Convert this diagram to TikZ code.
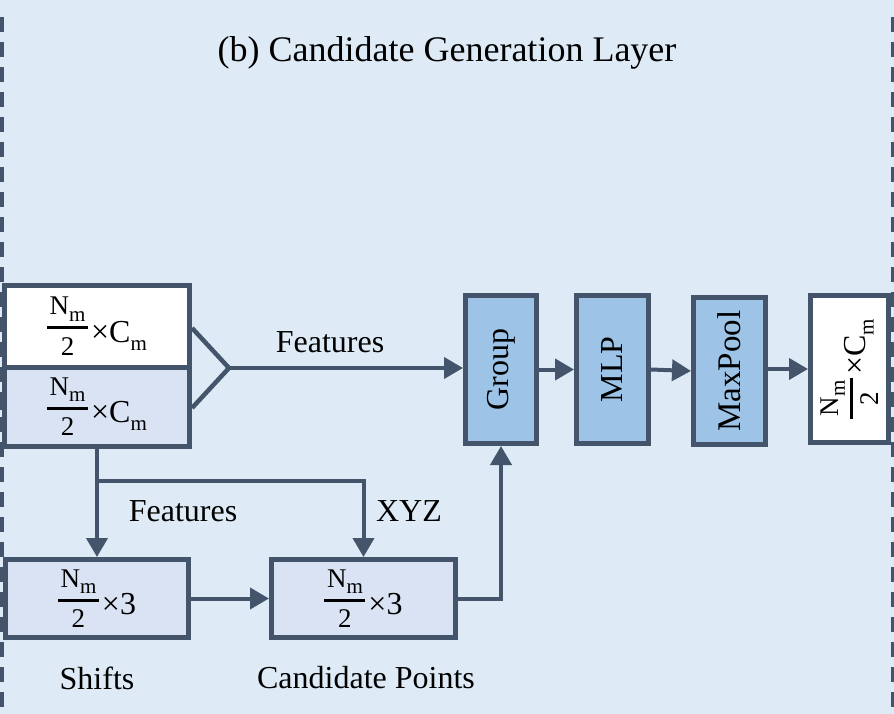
\documentclass[tikz,border=0pt]{standalone}
\usepackage{fontspec}
\usepackage{graphicx}
\setmainfont{Liberation Serif}
\usetikzlibrary{arrows.meta}
\definecolor{bg}{HTML}{DEEBF7}
\definecolor{edge}{HTML}{44546A}
\definecolor{lightbox}{HTML}{DAE3F3}
\definecolor{midbox}{HTML}{9DC3E6}
\newcommand\SubM{\raisebox{-0.25em}{\fontsize{21}{21}\selectfont m}}
\newcommand\HalfN{\raisebox{-13pt}{\fontsize{27}{30}\selectfont
  \vbox{\offinterlineskip
    \hbox to 41pt{\hss N\SubM\hss}
    \kern4.75pt
    \hrule height 3pt
    \kern8pt
    \hbox to 41pt{\hss 2\hss}}}}
\newcommand\NCm{\HalfN\kern3pt{\fontsize{32}{36}\selectfont ×C\SubM}}
\newcommand\NThree{\HalfN\kern3pt{\fontsize{32}{36}\selectfont ×3}}
\begin{document}
\begin{tikzpicture}[x=1pt,y=-1pt,
  box/.style={draw=edge, line width=5pt, inner sep=0pt, text=black,
              font=\fontsize{28}{32}\selectfont},
  conn/.style={draw=edge, line width=4pt},
  arr/.style={conn, -{Triangle[length=19pt,width=21pt]}},
  lbl/.style={font=\fontsize{32}{38}\selectfont, text=black, inner sep=0pt},
  frame/.style={draw=edge, line width=3.5pt, dash pattern=on 15pt off 10pt}]
\fill[bg] (0,0) rectangle (894,714);
\useasboundingbox (0,0) rectangle (894,714);
% dashed frame lines
\coordinate (lt) at (2,17);
\coordinate (lb) at (2,714);
\coordinate (rt) at (892.5,17);
\coordinate (rb) at (892.5,714);
\draw[frame] (lt) -- (lb);
\draw[frame] (rt) -- (rb);
% title
\node[lbl, font=\fontsize{36}{42}\selectfont] (title) at (447,53) {(b) Candidate Generation Layer};
% left input boxes
\node[box, fill=white, minimum width=185pt, minimum height=82pt] (A) at (97,326) {\NCm};
\node[box, fill=lightbox, minimum width=185pt, minimum height=79pt] (B) at (97,406.5) {\NCm};
\coordinate (stubA) at (0,327);
\coordinate (stubB) at (0,408);
\draw[conn] (stubA) -- (stubA -| A.west);
\draw[conn] (stubB) -- (stubB -| B.west);
% pipeline boxes
\node[box, fill=midbox, minimum width=71pt, minimum height=148pt] (G) at (501,369.5) {\rotatebox{90}{\fontsize{32}{38}\selectfont Group}};
\node[box, fill=midbox, minimum width=72pt, minimum height=148pt] (M) at (612.5,369.5) {\rotatebox{90}{\fontsize{32}{38}\selectfont MLP}};
\node[box, fill=midbox, minimum width=72pt, minimum height=147pt] (P) at (729.5,371) {\rotatebox{90}{\fontsize{33}{38}\selectfont MaxPool}};
\node[box, fill=white, minimum width=78pt, minimum height=147pt] (O) at (849.5,369) {\rotatebox{90}{\NCm}};
% bottom boxes
\node[box, fill=lightbox, minimum width=183pt, minimum height=78pt] (S) at (97,598.5) {\NThree};
\node[box, fill=lightbox, minimum width=184pt, minimum height=78pt] (C) at (363.5,598.5) {\NThree};
% concat triangle
\coordinate (tip) at (229,368);
\coordinate (tu) at (A.east |- 0,328);
\coordinate (tl) at (A.east |- 0,408);
\draw[conn, line width=4.5pt] (tu) -- (tip) -- (tl);
\draw[arr] (tip) -- (G.west |- tip);
\node[lbl] (f1) at (330,342) {Features};
% pipeline arrows
\draw[arr] (G.east) -- (M.west);
\draw[arr] (M.east) -- (P.west);
\draw[arr] (P.east |- O.west) -- (O.west);
% bottom connectors
\coordinate (br) at (97,481);
\draw[arr] (B.south) -- (S.north);
\draw[arr] (br) -| (C.north);
\node[lbl] (f2) at (183,511) {Features};
\node[lbl] (xyz) at (409,511) {XYZ};
\draw[arr] (S.east) -- (C.west);
\draw[arr] (C.east) -| (G.south);
\node[lbl] (sh) at (97,678) {Shifts};
\node[lbl] (cp) at (366,678) {Candidate Points};
\end{tikzpicture}
\end{document}
